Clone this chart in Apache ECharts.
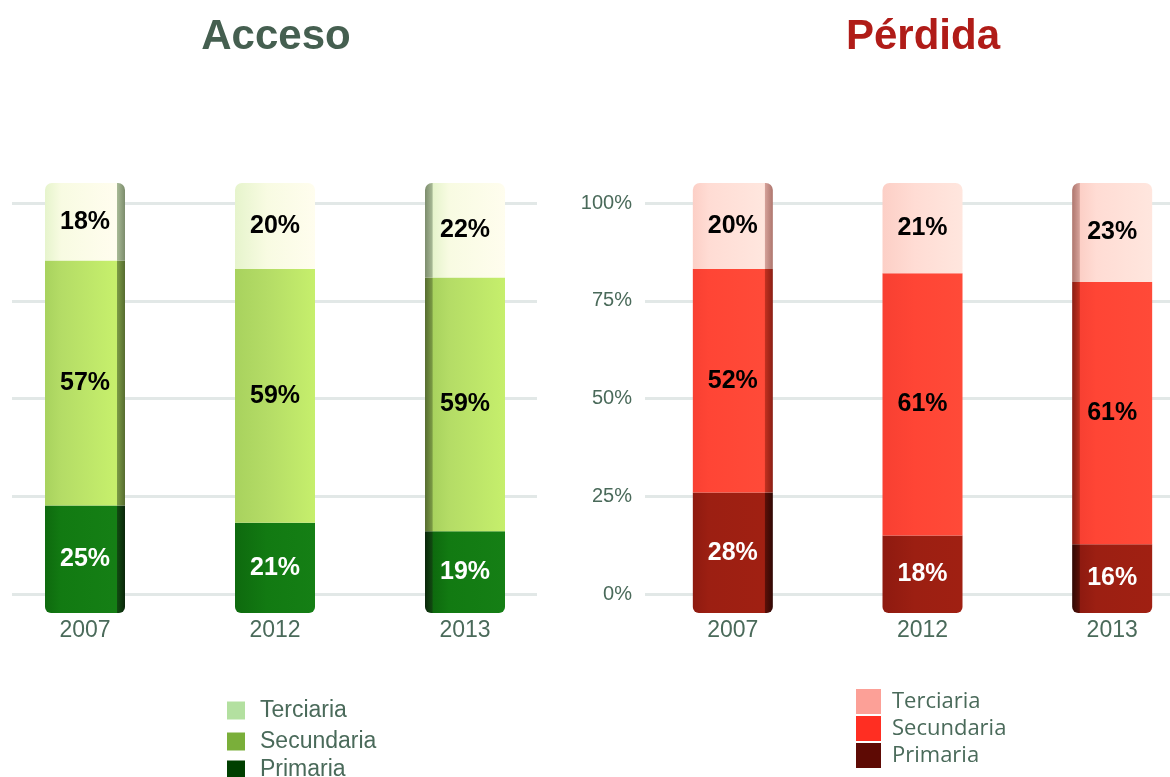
<!DOCTYPE html>
<html>
<head>
<meta charset="utf-8">
<script src="https://cdn.jsdelivr.net/npm/echarts@6/dist/echarts.min.js"></script>
<style>
  html, body { margin: 0; padding: 0; background: #fff; }
  #chart { width: 1170px; height: 777px; }
</style>
</head>
<body>
<div id="chart"></div>
<script>
const years = ['2007', '2012', '2013']
const accesoPrimaria = [25, 21, 19]
const accesoSecundaria = [57, 59, 59]
const accesoTerciaria = [18, 20, 22]
const perdidaPrimaria = [28, 18, 16]
const perdidaSecundaria = [52, 61, 61]
const perdidaTerciaria = [20, 21, 23]
const yTicks = [0, 25, 50, 75, 100]

const textColor = '#4a6a5a'
const labelFont = '"Liberation Sans", Arial, sans-serif'

// horizontal gradient that fakes the cylinder / 3D side of each bar
function shade(c, idx) {
  let stops
  if (idx === 0) {
    stops = [
      { offset: 0, color: c.edge }, { offset: 0.2, color: c.main },
      { offset: 0.86, color: c.light }, { offset: 0.895, color: c.light },
      { offset: 0.905, color: c.side }, { offset: 1, color: c.dark }
    ]
  } else if (idx === 2) {
    stops = [
      { offset: 0, color: c.dark }, { offset: 0.09, color: c.side },
      { offset: 0.1, color: c.edge }, { offset: 0.3, color: c.main },
      { offset: 1, color: c.light }
    ]
  } else {
    stops = [
      { offset: 0, color: c.edge }, { offset: 0.4, color: c.main },
      { offset: 1, color: c.light }
    ]
  }
  return new echarts.graphic.LinearGradient(0, 0, 1, 0, stops)
}

const palette = {
  aP: { edge: '#0e6a0e', main: '#127a12', light: '#157f15', side: '#114a11', dark: '#0a260a' },
  aS: { edge: '#a8d25e', main: '#b4dc66', light: '#c6ef6c', side: '#7a9a44', dark: '#566c30' },
  aT: { edge: '#e6f4cc', main: '#f8fbe2', light: '#fffdee', side: '#a6b894', dark: '#7c8c6c' },
  pP: { edge: '#8e1a10', main: '#9c1f12', light: '#a02012', side: '#5a1008', dark: '#300804' },
  pS: { edge: '#f84032', main: '#ff4535', light: '#ff4a38', side: '#c0301f', dark: '#8a1e14' },
  pT: { edge: '#fccfc6', main: '#ffdcd4', light: '#ffe6de', side: '#d4a098', dark: '#ae766e' }
}

function barSeries(name, values, c, gridIdx, labelColor, radius) {
  return {
    name: name,
    type: 'bar',
    stack: 'total' + gridIdx,
    xAxisIndex: gridIdx,
    yAxisIndex: gridIdx,
    barWidth: 80,
    data: values.map((v, i) => ({ value: v, itemStyle: { color: shade(c, i), borderRadius: radius } })),
    label: {
      show: true,
      position: 'inside',
      formatter: '{c}%',
      color: labelColor,
      fontSize: 25,
      fontWeight: 'bold',
      fontFamily: labelFont
    },
    z: 3
  }
}

// left legend: one small legend per row so nothing wraps at the bottom edge
function accesoLegend(name, color, top) {
  return {
    left: 227, top: top, padding: 0,
    itemWidth: 18, itemHeight: 18,
    icon: 'rect',
    textStyle: { color: textColor, fontSize: 23, lineHeight: 18, fontFamily: labelFont, padding: [0, 0, 0, 10] },
    data: [{ name: name, itemStyle: { color: color } }]
  }
}

const chart = echarts.init(document.getElementById('chart'))

chart.setOption({
  backgroundColor: '#fff',
  animation: false,
  title: [
    { text: 'Acceso', left: 271, top: 11, textAlign: 'center',
      textStyle: { color: '#455f50', fontSize: 42, fontWeight: 'bold', fontFamily: labelFont } },
    { text: 'Pérdida', left: 918, top: 11, textAlign: 'center',
      textStyle: { color: '#b01c18', fontSize: 42, fontWeight: 'bold', fontFamily: labelFont } }
  ],
  legend: [
    accesoLegend('Terciaria', '#b3e0a0', 699),
    accesoLegend('Secundaria', '#7aaf3a', 730),
    accesoLegend('Primaria', '#003f00', 758),
    {
      orient: 'vertical', left: 856, top: 689, padding: 0,
      itemWidth: 25, itemHeight: 25, itemGap: 2,
      icon: 'rect',
      textStyle: { color: textColor, fontSize: 22, lineHeight: 25, fontFamily: '"Open Sans", sans-serif', padding: [0, 0, 0, 6] },
      data: [
        { name: 'Terciaria', itemStyle: { color: '#fca097' } },
        { name: 'Secundaria', itemStyle: { color: '#ff2e22' } },
        { name: 'Primaria', itemStyle: { color: '#5e0a04' } }
      ]
    }
  ],
  grid: [
    // bar areas
    { left: -10, width: 570, top: 183, height: 430, outerBoundsMode: 'none', containLabel: false },
    { left: 638, width: 569, top: 183, height: 430, outerBoundsMode: 'none', containLabel: false },
    // gridline areas
    { left: 12, width: 525, top: 203, height: 391, outerBoundsMode: 'none', containLabel: false },
    { left: 645, width: 525, top: 203, height: 391, outerBoundsMode: 'none', containLabel: false }
  ],
  xAxis: [
    { type: 'category', gridIndex: 0, data: years, axisLine: { show: false }, axisTick: { show: false },
      axisLabel: { color: textColor, fontSize: 23, fontFamily: labelFont, margin: 6 } },
    { type: 'category', gridIndex: 1, data: years, axisLine: { show: false }, axisTick: { show: false },
      axisLabel: { color: textColor, fontSize: 23, fontFamily: labelFont, margin: 6 } },
    { type: 'value', gridIndex: 2, show: false },
    { type: 'value', gridIndex: 3, show: false }
  ],
  yAxis: [
    { type: 'value', gridIndex: 0, min: 0, max: 100, show: false },
    { type: 'value', gridIndex: 1, min: 0, max: 100, show: false },
    { type: 'value', gridIndex: 2, min: yTicks[0], max: yTicks[yTicks.length - 1], interval: 25,
      axisLine: { show: false }, axisTick: { show: false }, axisLabel: { show: false },
      splitLine: { lineStyle: { color: '#e2e8e7', width: 3 } } },
    { type: 'value', gridIndex: 3, min: yTicks[0], max: yTicks[yTicks.length - 1], interval: 25,
      axisLine: { show: false }, axisTick: { show: false },
      axisLabel: { color: textColor, fontSize: 20, fontFamily: labelFont, margin: 13, formatter: '{value}%' },
      splitLine: { lineStyle: { color: '#e2e8e7', width: 3 } } }
  ],
  series: [
    barSeries('Primaria', accesoPrimaria, palette.aP, 0, '#fff', [0, 0, 6, 6]),
    barSeries('Secundaria', accesoSecundaria, palette.aS, 0, '#000', 0),
    barSeries('Terciaria', accesoTerciaria, palette.aT, 0, '#000', [7, 7, 0, 0]),
    barSeries('Primaria', perdidaPrimaria, palette.pP, 1, '#fff', [0, 0, 6, 6]),
    barSeries('Secundaria', perdidaSecundaria, palette.pS, 1, '#000', 0),
    barSeries('Terciaria', perdidaTerciaria, palette.pT, 1, '#000', [7, 7, 0, 0])
  ]
})
</script>
</body>
</html>
